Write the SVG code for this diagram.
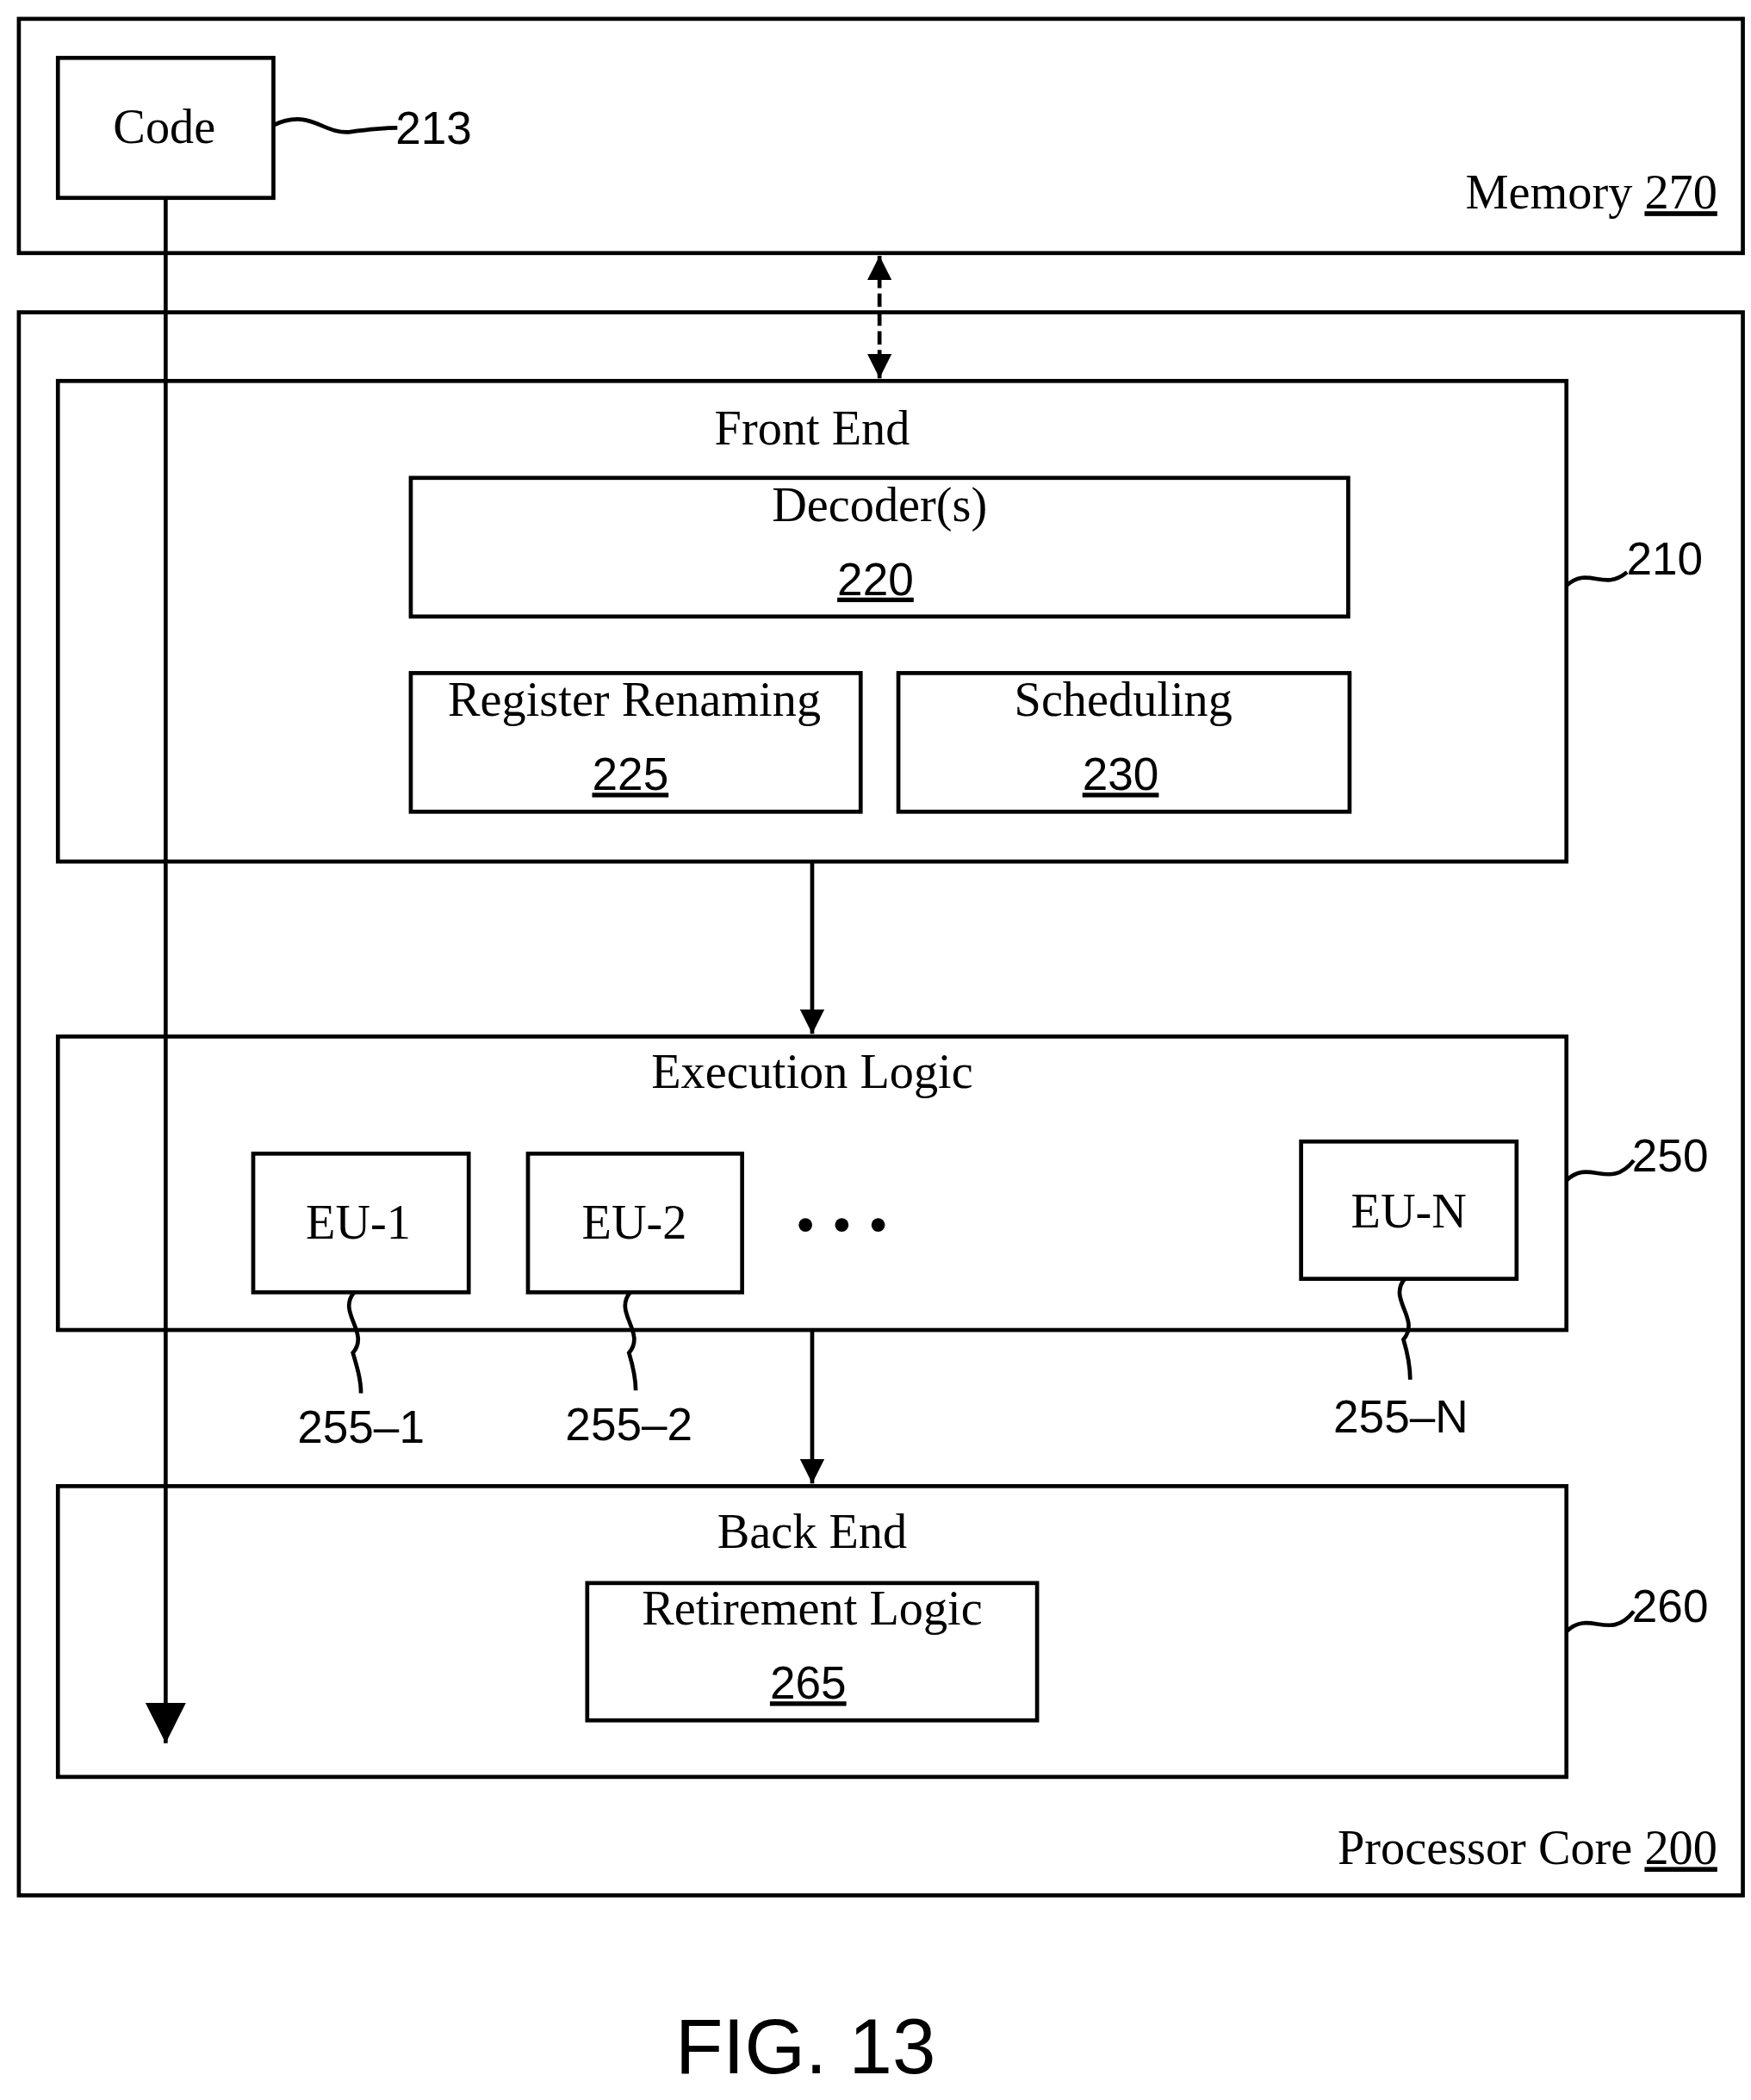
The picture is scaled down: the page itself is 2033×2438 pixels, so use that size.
<svg xmlns="http://www.w3.org/2000/svg" width="2033" height="2438" viewBox="0 0 2033 2438">
<defs>
<style>
.b{fill:none;stroke:#000;stroke-width:3}
.t{font-family:"Liberation Serif",serif;font-size:36px;text-anchor:middle}
.n{font-family:"Liberation Sans",sans-serif;font-size:34px;text-anchor:middle}
.u{text-decoration:underline}
.l{fill:none;stroke:#000;stroke-width:3}
</style>
<marker id="a" viewBox="0 0 10 10" refX="10" refY="5" markerWidth="24" markerHeight="18" markerUnits="userSpaceOnUse" orient="auto-start-reverse"><path d="M0,0L10,5L0,10z"/></marker>
<marker id="a2" viewBox="0 0 10 10" refX="10" refY="5" markerWidth="50" markerHeight="30" markerUnits="userSpaceOnUse" orient="auto"><path d="M0,0L10,5L0,10z"/></marker>
</defs>
<rect width="2033" height="2438" fill="#fff"/>
<g transform="scale(1.5638,1.5628)">
<g id="memory"><rect class="b" x="14" y="14" width="1280" height="174"/><text class="t" x="1275" y="155" style="text-anchor:end">Memory <tspan class="u">270</tspan></text></g>
<g id="code"><rect class="b" x="43" y="43" width="160" height="104"/><text class="t" x="122" y="106">Code</text><path class="l" d="M203,93 C230,80 240,100 260,98 C275,96 285,95 295,95"/><text class="n" x="322" y="107">213</text></g>
<g id="core"><rect class="b" x="14" y="232" width="1280" height="1176"/><text class="t" x="1275" y="1385" style="text-anchor:end">Processor Core <tspan class="u">200</tspan></text></g>
<g id="frontend"><rect class="b" x="43" y="283" width="1120" height="357"/><text class="t" x="603" y="330">Front End</text><path class="l" d="M1163,435 C1180,420 1190,440 1208,425"/><text class="n" x="1236" y="427">210</text></g>
<g id="decoder"><rect class="b" x="305" y="355" width="696" height="103"/><text class="t" x="653" y="387">Decoder(s)</text><text class="n u" x="650" y="442">220</text></g>
<g id="rename"><rect class="b" x="305" y="500" width="334" height="103"/><text class="t" x="471" y="532">Register Renaming</text><text class="n u" x="468" y="587">225</text></g>
<g id="sched"><rect class="b" x="667" y="500" width="335" height="103"/><text class="t" x="834" y="532">Scheduling</text><text class="n u" x="832" y="587">230</text></g>
<g id="exec"><rect class="b" x="43" y="770" width="1120" height="218"/><text class="t" x="603" y="808">Execution Logic</text><path class="l" d="M1163,877 C1180,860 1195,885 1213,862"/><text class="n" x="1240" y="870">250</text>
<circle cx="598" cy="910" r="5"/><circle cx="625" cy="910" r="5"/><circle cx="652" cy="910" r="5"/></g>
<g id="eu1"><rect class="b" x="188" y="857" width="160" height="103"/><text class="t" x="266" y="920">EU-1</text><path class="l" d="M263,960 C250,975 275,990 262,1005 C265,1015 268,1025 268,1035"/><text class="n" x="268" y="1072">255–1</text></g>
<g id="eu2"><rect class="b" x="392" y="857" width="159" height="103"/><text class="t" x="471" y="920">EU-2</text><path class="l" d="M468,960 C455,975 480,990 467,1005 C470,1015 472,1025 472,1033"/><text class="n" x="467" y="1070">255–2</text></g>
<g id="eun"><rect class="b" x="966" y="848" width="160" height="102"/><text class="t" x="1046" y="912">EU-N</text><path class="l" d="M1043,950 C1030,965 1055,980 1042,995 C1045,1005 1047,1015 1047,1025"/><text class="n" x="1040" y="1064">255–N</text></g>
<g id="backend"><rect class="b" x="43" y="1104" width="1120" height="216"/><text class="t" x="603" y="1150">Back End</text><path class="l" d="M1163,1212 C1180,1195 1195,1220 1213,1197"/><text class="n" x="1240" y="1205">260</text></g>
<g id="retire"><rect class="b" x="436" y="1176" width="334" height="102"/><text class="t" x="603" y="1207">Retirement Logic</text><text class="n u" x="600" y="1262">265</text></g>
<g id="connectors">
<line class="l" x1="653" y1="190" x2="653" y2="281" marker-start="url(#a)" marker-end="url(#a)" stroke-dasharray="10,4"/>
<line class="l" x1="603" y1="640" x2="603" y2="768" marker-end="url(#a)"/>
<line class="l" x1="603" y1="988" x2="603" y2="1102" marker-end="url(#a)"/>
<line class="l" x1="123" y1="147" x2="123" y2="1295" marker-end="url(#a2)"/>
</g>
<text x="598" y="1540" style="font-family:'Liberation Sans',sans-serif;font-size:58px;text-anchor:middle">FIG. 13</text>
</g>
</svg>
